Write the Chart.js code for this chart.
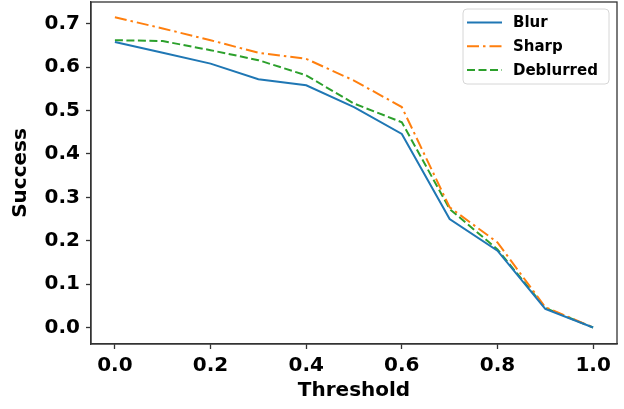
<!DOCTYPE html>
<html>
<head>
<meta charset="utf-8">
<script src="https://cdn.jsdelivr.net/npm/chart.js@4/dist/chart.umd.min.js"></script>
<style>
  html, body { margin: 0; padding: 0; background: #fff; }
</style>
</head>
<body>
<canvas id="chart" width="624" height="409"></canvas>
<script>
// Threshold values along the x axis
const thresholds = [0.0, 0.1, 0.2, 0.3, 0.4, 0.5, 0.6, 0.7, 0.8, 0.9, 1.0];

// Success rate for each series
const blur = [0.658, 0.633, 0.608, 0.572, 0.558, 0.508, 0.446, 0.250, 0.177, 0.043, 0.0];
const sharp = [0.715, 0.689, 0.662, 0.633, 0.619, 0.569, 0.508, 0.277, 0.196, 0.047, 0.0];
const deblurred = [0.662, 0.660, 0.639, 0.616, 0.581, 0.516, 0.473, 0.273, 0.180, 0.045, 0.0];

// Tick labels
const xTicks = [0.0, 0.2, 0.4, 0.6, 0.8, 1.0];
const yTicks = [0.0, 0.1, 0.2, 0.3, 0.4, 0.5, 0.6, 0.7];

const FONT = 'DejaVu Sans';
const AXIS = '#333';

function toPoints(values) {
  return thresholds.map((t, i) => ({ x: t, y: values[i] }));
}

// Full box round the plot area, like the matplotlib frame
const framePlugin = {
  id: 'frame',
  afterDraw(chart) {
    const { ctx, chartArea: a } = chart;
    ctx.save();
    ctx.strokeStyle = AXIS;
    ctx.lineWidth = 1.3;
    ctx.strokeRect(a.left, a.top, a.right - a.left, a.bottom - a.top);
    ctx.restore();
  }
};

// Legend box in the upper right corner of the plot
const boxLegend = {
  id: 'boxLegend',
  afterDraw(chart) {
    const { ctx, chartArea: a } = chart;
    const w = 146, h = 75;
    const x = a.right - 8 - w, y = a.top + 7;
    ctx.save();
    ctx.beginPath();
    ctx.roundRect(x, y, w, h, 4);
    ctx.fillStyle = 'rgba(255,255,255,0.8)';
    ctx.fill();
    ctx.strokeStyle = '#d6d6d6';
    ctx.lineWidth = 1;
    ctx.stroke();
    ctx.font = 'bold 15px ' + FONT;
    ctx.textBaseline = 'middle';
    chart.data.datasets.forEach((ds, i) => {
      const ly = y + 13.5 + i * 23.7;
      ctx.beginPath();
      ctx.setLineDash(ds.borderDash || []);
      ctx.strokeStyle = ds.borderColor;
      ctx.lineWidth = ds.borderWidth;
      ctx.moveTo(x + 4, ly);
      ctx.lineTo(x + 39, ly);
      ctx.stroke();
      ctx.setLineDash([]);
      ctx.fillStyle = '#000';
      ctx.fillText(ds.label, x + 50, ly + 1);
    });
    ctx.restore();
  }
};

new Chart(document.getElementById('chart'), {
  type: 'line',
  data: {
    datasets: [
      { label: 'Blur', data: toPoints(blur), borderColor: '#1f77b4', borderWidth: 2 },
      { label: 'Sharp', data: toPoints(sharp), borderColor: '#ff7f0e', borderWidth: 2, borderDash: [12, 4, 2.5, 4] },
      { label: 'Deblurred', data: toPoints(deblurred), borderColor: '#2ca02c', borderWidth: 2, borderDash: [8, 3.5] }
    ]
  },
  options: {
    responsive: false,
    animation: false,
    layout: { padding: { top: 2, right: 7, left: 0, bottom: 0 } },
    elements: { point: { radius: 0 }, line: { tension: 0, fill: false } },
    plugins: { legend: { display: false }, tooltip: { enabled: false } },
    scales: {
      x: {
        type: 'linear',
        min: -0.05,
        max: 1.05,
        afterBuildTicks: s => { s.ticks = xTicks.map(v => ({ value: v })); },
        afterFit: s => { s.height = 65; s.paddingLeft = 0; s.paddingRight = 0; },
        ticks: {
          padding: 5,
          color: '#000',
          font: { family: FONT, size: 20, weight: 'bold' },
          callback: v => v.toFixed(1)
        },
        grid: { drawOnChartArea: false, drawTicks: true, tickLength: 5, color: AXIS, tickWidth: 1.3 },
        border: { display: true, color: AXIS, width: 1.3 },
        title: {
          display: true,
          text: 'Threshold',
          color: '#000',
          font: { family: FONT, size: 20, weight: 'bold' },
          padding: { top: 0, bottom: 6 }
        }
      },
      y: {
        type: 'linear',
        min: -0.038,
        max: 0.75,
        afterBuildTicks: s => { s.ticks = yTicks.map(v => ({ value: v })); },
        afterFit: s => { s.width = 91; s.paddingTop = 0; s.paddingBottom = 0; },
        ticks: {
          padding: 6,
          color: '#000',
          font: { family: FONT, size: 20, weight: 'bold' },
          callback: v => v.toFixed(1)
        },
        grid: { drawOnChartArea: false, drawTicks: true, tickLength: 5, color: AXIS, tickWidth: 1.3 },
        border: { display: true, color: AXIS, width: 1.3 },
        title: {
          display: true,
          text: 'Success',
          color: '#000',
          font: { family: FONT, size: 20, weight: 'bold' },
          padding: { top: 9, bottom: 0 }
        }
      }
    }
  },
  plugins: [framePlugin, boxLegend]
});
</script>
</body>
</html>
